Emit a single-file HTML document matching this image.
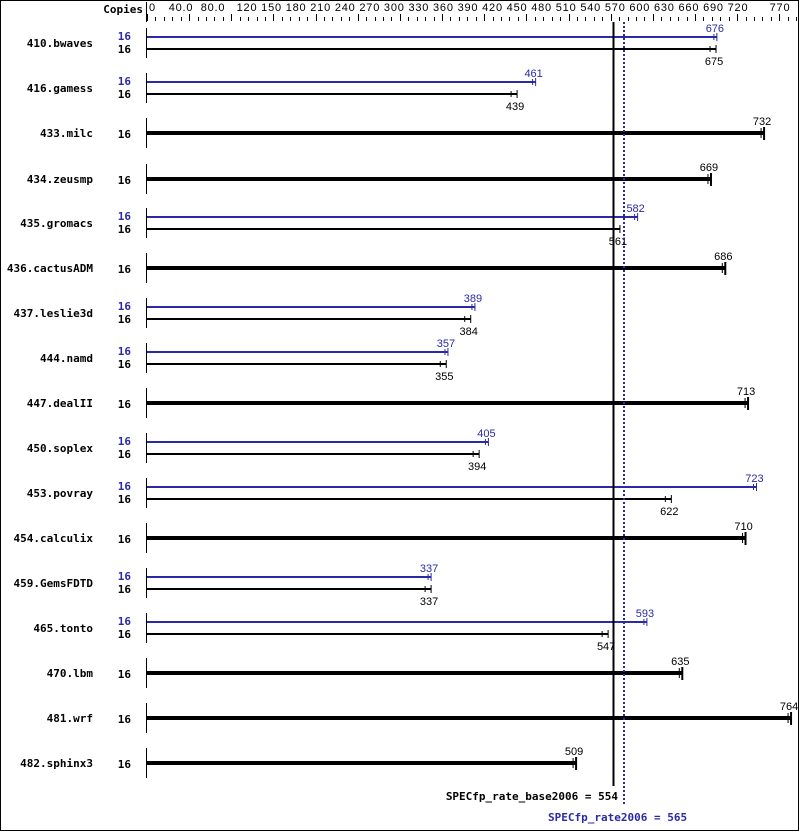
<!DOCTYPE html>
<html><head><meta charset="utf-8"><style>
html,body{margin:0;padding:0;background:#fff}
svg{display:block}
.l{font-family:"DejaVu Sans Mono","Liberation Mono",monospace;font-weight:bold;font-size:11px}
.n{font-family:"Liberation Sans",sans-serif;font-size:11px}
.a{font-family:"Liberation Sans",sans-serif;font-size:11px;letter-spacing:0.8px}
</style></head><body>
<svg id="s" width="799" height="831" xmlns="http://www.w3.org/2000/svg">
<rect x="0.5" y="0.5" width="798" height="830" fill="#fff" stroke="#000"/>
</svg>
<script>
const s=document.getElementById('s');const NS='http://www.w3.org/2000/svg';
const B='#2a2aa8';
function el(t,a,txt){const e=document.createElementNS(NS,t);for(const k in a)e.setAttribute(k,a[k]);if(txt!=null)e.textContent=txt;s.appendChild(e);return e;}
const X=v=>147+v*0.843;
// axis
el('text',{x:143,y:13,class:'l','text-anchor':'end'},'Copies');
el('line',{x1:146.5,y1:2,x2:146.5,y2:22,stroke:'#000'});
el('text',{x:149,y:11,class:'a'},'0');
el('text',{x:181,y:11,class:'a','text-anchor':'middle'},'40.0');
el('text',{x:213,y:11,class:'a','text-anchor':'middle'},'80.0');
const labs=[120,150,180,210,240,270,300,330,360,390,420,450,480,510,540,570,600,630,660,690,720];
labs.forEach((v,i)=>{el('text',{x:247+i*24.55,y:11,class:'a','text-anchor':'middle'},v);});
el('text',{x:780,y:11,class:'a','text-anchor':'middle'},'770');
for(let v=0;v<=770;v+=10){const big=(v%50==0);el('line',{x1:Math.round(X(v))+.5,y1:big?14:17,x2:Math.round(X(v))+.5,y2:21,stroke:'#000'});}
// rows
const rows=[
['410.bwaves',43,676,675],['416.gamess',88,461,439],['433.milc',133,null,732],['434.zeusmp',179,null,669],
['435.gromacs',223,582,561],['436.cactusADM',268,null,686],['437.leslie3d',313,389,384],['444.namd',358,357,355],
['447.dealII',403,null,713],['450.soplex',448,405,394],['453.povray',493,723,622],['454.calculix',538,null,710],
['459.GemsFDTD',583,337,337],['465.tonto',628,593,547],['470.lbm',673,null,635],['481.wrf',718,null,764],['482.sphinx3',763,null,509]];
rows.forEach(([n,y,p,b])=>{
  el('text',{x:93,y:y+4,class:'l','text-anchor':'end'},n);
  el('line',{x1:146.5,y1:y-15,x2:146.5,y2:y+15,stroke:'#000'});
  if(p==null){
    el('text',{x:131,y:y+5,class:'l','text-anchor':'end'},'16');
    el('line',{x1:147,y1:y,x2:X(b),y2:y,stroke:'#000','stroke-width':4});
    el('line',{x1:X(b),y1:y-6,x2:X(b),y2:y+7,stroke:'#000','stroke-width':2});
    el('line',{x1:X(b)-3,y1:y-5,x2:X(b)-3,y2:y+5,stroke:'#000','stroke-width':1});
    el('text',{x:X(b)-2,y:y-8,class:'n','text-anchor':'middle'},b);
  } else {
    const yb=y-6,yk=y+6;
    el('text',{x:131,y:yb+3,class:'l','text-anchor':'end',fill:B},'16');
    el('text',{x:131,y:yk+4,class:'l','text-anchor':'end'},'16');
    el('line',{x1:147,y1:yb,x2:X(p),y2:yb,stroke:B,'stroke-width':2});
    el('line',{x1:X(p),y1:yb-4,x2:X(p),y2:yb+4,stroke:B,'stroke-width':1});
    el('line',{x1:X(p)-3,y1:yb-3,x2:X(p)-3,y2:yb+3,stroke:B,'stroke-width':1});
    el('text',{x:X(p)-2,y:yb-5,class:'n','text-anchor':'middle',fill:B},p);
    el('line',{x1:147,y1:yk,x2:X(b),y2:yk,stroke:'#000','stroke-width':2});
    el('line',{x1:X(b),y1:yk-4,x2:X(b),y2:yk+4,stroke:'#000','stroke-width':1});
    el('line',{x1:X(b)-6,y1:yk-3,x2:X(b)-6,y2:yk+3,stroke:'#000','stroke-width':1});
    el('text',{x:X(b)-2,y:yk+16,class:'n','text-anchor':'middle'},b);
  }
});
// reference lines
el('line',{x1:613.5,y1:22,x2:613.5,y2:786,stroke:'#000','stroke-width':2});
el('line',{x1:624,y1:22,x2:624,y2:806,stroke:B,'stroke-width':2,'stroke-dasharray':'2,2'});
el('text',{x:618,y:800,class:'l','text-anchor':'end'},'SPECfp_rate_base2006 = 554');
el('text',{x:548,y:821,class:'l',fill:B},'SPECfp_rate2006 = 565');
</script>
</body></html>
